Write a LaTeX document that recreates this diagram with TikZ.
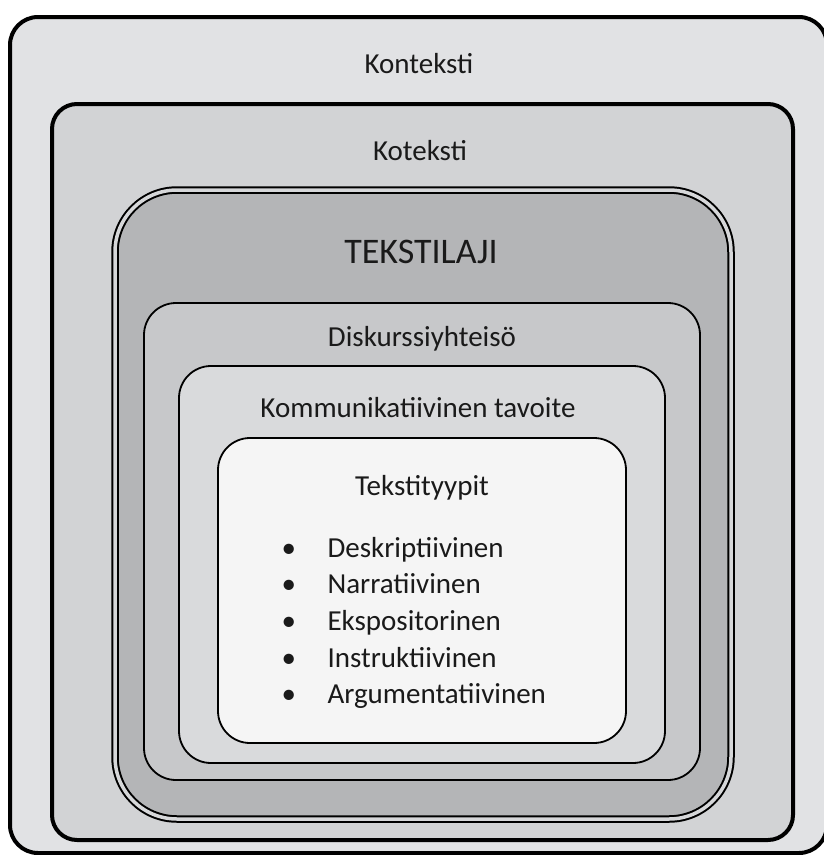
\documentclass[tikz,border=0pt]{standalone}
\usepackage{xcolor}
\usepackage{fontspec}
\setmainfont{Carlito}
\usepackage{tikz}
\usetikzlibrary{positioning}
\definecolor{kontekstigray}{RGB}{225, 226, 228}
\definecolor{kotekstigray}{RGB}{210, 211, 213}
\definecolor{lajigray}{RGB}{180, 181, 183}
\definecolor{lajigap}{RGB}{214, 215, 217}
\definecolor{diskurssigray}{RGB}{199, 200, 202}
\definecolor{tavoitegray}{RGB}{217, 218, 220}
\definecolor{tyyppiwhite}{RGB}{245, 245, 245}
\definecolor{labelblack}{RGB}{26, 26, 26}

\begin{document}
\begin{tikzpicture}[
    x=1pt, y=-1pt,
    every node/.style={text=labelblack},
    layer/.style={rectangle, draw=black, inner sep=0pt, outer sep=0pt},
    thicklayer/.style={layer, line width=4pt, rounded corners=28pt},
    thinlayer/.style={layer, line width=1.8pt, rounded corners=32pt},
    title/.style={anchor=base, font=\fontsize{29}{34}\selectfont},
    item/.style={anchor=base west, font=\fontsize{29}{34}\selectfont}
]

\fill[white] (0,0) rectangle (824,855);
\useasboundingbox (0,0) rectangle (824,855);

% nested boxes, outermost first
\begin{scope}
\clip (0,0) rectangle (824,855);
\node[thicklayer, fill=kontekstigray, minimum width=817pt, minimum height=836pt] (konteksti) at (418.5,435) {};
\end{scope}
\node[thicklayer, fill=kotekstigray, rounded corners=25pt, minimum width=741pt, minimum height=736pt] (koteksti) at (422.5,472) {};
\node[layer, fill=lajigray, line width=2pt, double=lajigap, double distance=3.5pt, rounded corners=62pt, minimum width=616pt, minimum height=629pt] (tekstilaji) at (423,504.5) {};
\node[thinlayer, fill=diskurssigray, minimum width=556pt, minimum height=477pt] (diskurssi) at (422,541.5) {};
\node[thinlayer, fill=tavoitegray, minimum width=486pt, minimum height=397pt] (tavoite) at (422,564.5) {};
\node[thinlayer, fill=tyyppiwhite, minimum width=408pt, minimum height=305pt] (tyypit) at (422,590.5) {};

% titles
\node[title] (kontekstilabel) at (419,73) {Konteksti};
\node[title] (kotekstilabel) at (420,160) {Koteksti};
\node[title, font=\fontsize{36}{42}\selectfont] (lajilabel) at (421,263) {TEKSTILAJI};
\node[title] (diskurssilabel) at (422,346) {Diskurssiyhteisö};
\node[title] (tavoitelabel) at (418,417) {Kommunikatiivinen tavoite};
\node[title] (tyypitlabel) at (422,495) {Tekstityypit};

% list of text types
\node[item] (deskriptiivinen) at (278,557) {\makebox[46pt][l]{\textbullet}Deskriptiivinen};
\node[item] (narratiivinen) at (278,593) {\makebox[46pt][l]{\textbullet}Narratiivinen};
\node[item] (ekspositorinen) at (278,630) {\makebox[46pt][l]{\textbullet}Ekspositorinen};
\node[item] (instruktiivinen) at (278,667) {\makebox[46pt][l]{\textbullet}Instruktiivinen};
\node[item] (argumentatiivinen) at (278,703) {\makebox[46pt][l]{\textbullet}Argumentatiivinen};

\end{tikzpicture}
\end{document}
